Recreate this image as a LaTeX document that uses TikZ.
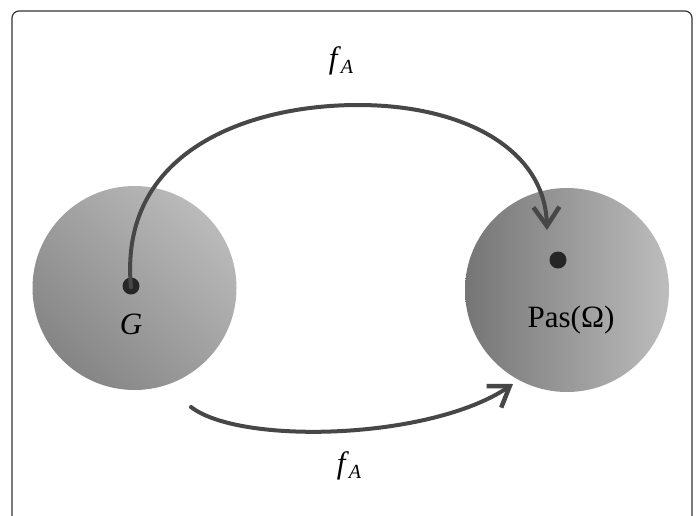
\documentclass[tikz,border=0pt]{standalone}
\usepackage{fontspec}
\IfFontExistsTF{LiberationSerif}{\setmainfont{LiberationSerif}[ItalicFont=LiberationSerif-Italic]}{\setmainfont{Liberation Serif}}
\usetikzlibrary{arrows.meta,positioning}
\newcommand{\fmap}{\textit{f}\raisebox{-0.35ex}{\fontsize{20}{20}\selectfont\itshape A}}
\tikzset{
    setdisc/.style={circle,minimum size=204pt,inner sep=0pt},
    setdot/.style={circle,fill=black!85,minimum size=17pt,inner sep=0pt},
    setlabel/.style={font=\fontsize{31}{31}\selectfont},
    maplabel/.style={font=\fontsize{31}{31}\selectfont},
    mapline/.style={-{Straight Barb[length=19pt,width=26pt,line width=4.5pt]},line width=4pt,draw=black!72,line cap=round}
}

\begin{document}
\begin{tikzpicture}[x=1pt,y=-1pt]
        \useasboundingbox (0,0) rectangle (697,515);
        % frame, open at the bottom
        \draw[black!80,line width=1.2pt,rounded corners=7pt] (12,520) -- (12,11) -- (692,11) -- (692,520);
        % the two sets
        \node[setdisc,left color=black!48,right color=black!27,shading angle=135] (gset) at (134.5,288) {};
        \node[setdisc,left color=black!54,right color=black!26] (pset) at (567,290) {};
        \node[setdot] (gdot) at (131,286) {};
        \node[setdot] (pdot) at (558,260) {};
        \node[setlabel,below=16pt of gdot] (glabel) {\textit{G}};
        \node[setlabel] (plabel) at (571,320) {Pas(Ω)};
        % maps
        \coordinate (topend) at (547,230);
        \coordinate (botstart) at (191,407);
        \coordinate (botend) at (513,384);
        \draw[mapline] ([yshift=-10pt]gdot.north) .. controls (118,150) and (250,105) .. (358,105)
            .. controls (465,105) and (545,150) .. (topend);
        \draw[mapline] (botstart) .. controls (240,445) and (430,440) .. (botend);
        \node[maplabel] (ftop) at (341,61) {\fmap};
        \node[maplabel] (fbot) at (349,466) {\fmap};
    \end{tikzpicture}
\end{document}
